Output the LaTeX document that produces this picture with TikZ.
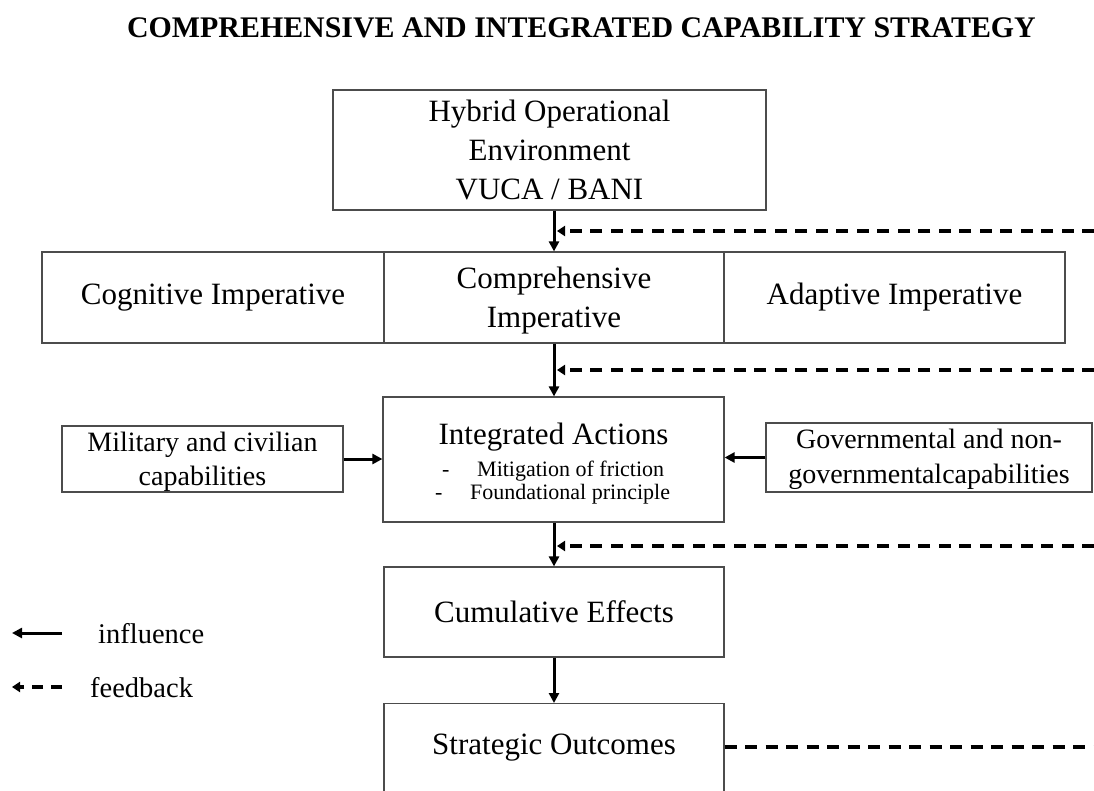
\documentclass[tikz,border=0pt]{standalone}
\usepackage{fontspec}
\setmainfont{Liberation Serif}
\usetikzlibrary{arrows.meta,calc}
\begin{document}
\begin{tikzpicture}[x=1pt,y=-1pt,
  box/.style={draw=black!70,line width=1.2pt,inner sep=0pt,align=center,font=\fontsize{31}{39}\selectfont},
  sbox/.style={box,font=\fontsize{28}{35}\selectfont},
  txt/.style={inner sep=0pt,font=\fontsize{31}{39}\selectfont},
  stxt/.style={inner sep=0pt,font=\fontsize{22}{23}\selectfont,anchor=base west},
  infl/.style={line width=3pt,-{Triangle[length=10pt,width=10pt]}},
  fb/.style={line width=3.4pt,dash pattern=on 12pt off 8.5pt,-{Triangle[length=8pt,width=10pt]}},
  fbn/.style={line width=3.4pt,dash pattern=on 12pt off 8.5pt}]
\clip (0,0) rectangle (1094,790);
\useasboundingbox (0,0) rectangle (1094,790);
\fill[white] (0,0) rectangle (1094,790);

\node[font=\fontsize{29.9}{34}\selectfont\bfseries] (title) at (581.5,28) {COMPREHENSIVE AND INTEGRATED CAPABILITY STRATEGY};

\node[box,minimum width=433pt,minimum height=120pt] (hyb) at (549.5,150) {Hybrid Operational\\Environment\\VUCA / BANI};

\node[box,minimum width=342pt,minimum height=91pt] (cog) at (213,297.5) {Cognitive Imperative};
\node[box,minimum width=340pt,minimum height=91pt] (comp) at (554,297.5) {};
\node[txt,align=center] (compt) at (554,301) {Comprehensive\\Imperative};
\node[box,minimum width=341pt,minimum height=91pt] (adapt) at (894.5,297.5) {Adaptive Imperative};

\node[box,minimum width=341pt,minimum height=125pt] (integ) at (553.5,459.5) {};
\node[txt] (integt) at (553.5,437) {Integrated Actions};
\node[stxt] (d1) at (442,476) {-};
\node[stxt] (s1) at (477,476) {Mitigation of friction};
\node[stxt] (d2) at (435,499) {-};
\node[stxt] (s2) at (470,499) {Foundational principle};

\node[sbox,minimum width=281pt,minimum height=66pt] (mil) at (202.5,459) {};
\node[txt,align=center,font=\fontsize{28}{34}\selectfont] (milt) at (202.5,462) {Military and civilian\\capabilities};
\node[sbox,minimum width=326pt,minimum height=69pt] (gov) at (929,457.5) {};
\node[txt,align=center,font=\fontsize{28}{35}\selectfont] (govt) at (929,459) {Governmental and non-\\governmentalcapabilities};

\node[box,minimum width=340pt,minimum height=90pt] (cum) at (554,612) {Cumulative Effects};
\node[box,minimum width=340pt,minimum height=92pt,anchor=north] (strat) at (554,703) {};
\node[txt] (stratt) at (554,748) {Strategic Outcomes};

% influence arrows
\draw[infl] (hyb.south -| comp.north) -- (comp.north);
\draw[infl] (comp.south) -- (integ.north -| comp.south);
\draw[infl] (integ.south -| comp.south) -- (cum.north);
\draw[infl] (cum.south) -- (strat.north);
\draw[infl] (mil.east) -- (mil.east -| integ.west);
\draw[infl] (gov.west) -- (gov.west -| integ.east);

% feedback arrows
\coordinate (f1s) at (1094,231); \coordinate (f1e) at (557,231);
\coordinate (f2s) at (1094,370); \coordinate (f2e) at (557,370);
\coordinate (f3s) at (1094,546); \coordinate (f3e) at (557,546);
\coordinate (f4e) at (1094,747);
\draw[fb] (f1s) -- (f1e);
\draw[fb] (f2s) -- (f2e);
\draw[fb] (f3s) -- (f3e);
\draw[fbn] (strat.east |- f4e) -- (f4e);

% legend
\coordinate (l1s) at (62,633); \coordinate (l1e) at (12,633);
\coordinate (l2s) at (62,687); \coordinate (l2e) at (12,687);
\draw[infl] (l1s) -- (l1e);
\draw[line width=3.4pt,dash pattern=on 11pt off 8pt,-{Triangle[length=8pt,width=10pt]}] (l2s) -- (l2e);
\node[font=\fontsize{28.5}{34}\selectfont,anchor=west,inner sep=0pt] (linf) at (98,634) {influence};
\node[font=\fontsize{28.5}{34}\selectfont,anchor=west,inner sep=0pt] (lfb) at (90,688) {feedback};
\end{tikzpicture}
\end{document}
